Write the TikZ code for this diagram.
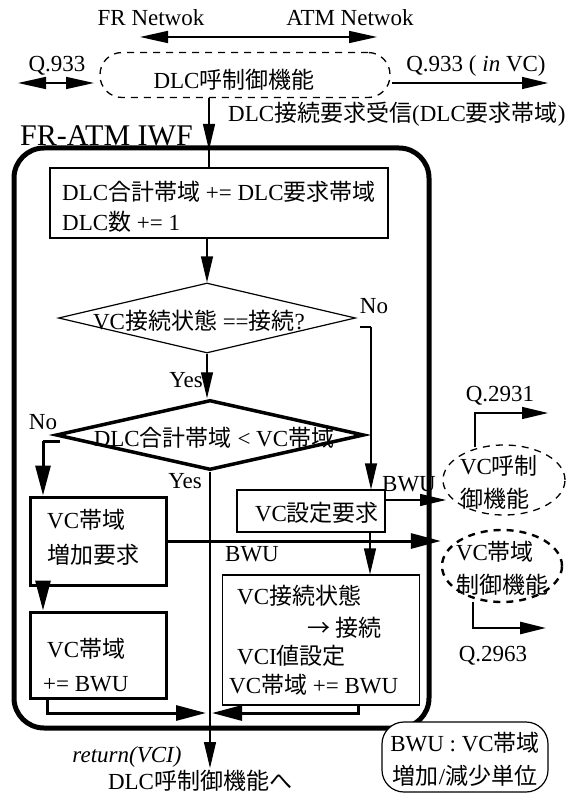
\documentclass[tikz,border=0pt]{standalone}
\usepackage{fontspec}
\setmainfont{Liberation Serif}
\newfontfamily\cjk{Noto Sans CJK JP}
\newcommand\jp[1]{{\cjk #1}}
\usetikzlibrary{arrows.meta,shapes.geometric}
\tikzset{
  txt/.style={font=\fontsize{23}{33}\selectfont, inner sep=0pt},
  thin/.style={line width=1.2pt},
  thick3/.style={line width=3pt},
  boxthin/.style={draw, line width=1.2pt, inner sep=0pt},
  boxthick/.style={draw, line width=3pt, inner sep=0pt},
  arr/.style={-{Triangle[length=26pt,width=12pt]}},
  bigarr/.style={-{Triangle[length=30pt,width=15pt]}},
  darr/.style={{Triangle[length=28pt,width=12pt]}-{Triangle[length=28pt,width=12pt]}},
  cloud/.style={draw, dash pattern=on 7pt off 6pt, line width=1.3pt, inner sep=0pt},
}
\begin{document}
\begin{tikzpicture}[x=1pt,y=-1pt]
\useasboundingbox (0,0) rectangle (584,794);
% top labels
\node[txt] (frn) at (151,18) {FR Netwok};
\node[txt] (atmn) at (350,18) {ATM Netwok};
\coordinate (na) at (140,37);
\coordinate (nb) at (377,37);
\draw[darr, line width=1.6pt] (na) -- (nb);
% DLC call control
\node[cloud, rounded corners=22pt, minimum width=290pt, minimum height=45pt] (dlc) at (245,75) {};
\node[txt] (dlct) at (234,80) {DLC\jp{呼制御機能}};
\node[txt] (q1) at (57,66) {Q.933};
\coordinate (q1a) at (18,83);
\coordinate (q1b) at (94,83);
\draw[darr, line width=1.6pt] (q1a) -- (q1b);
\node[txt] (q2) at (476,66) {Q.933 ( \textit{in} VC)};
\coordinate (q2a) at (392,83);
\coordinate (q2b) at (548,83);
\draw[arr, line width=1.4pt] (q2a) -- (q2b);
\node[txt, anchor=west] (req) at (228,114) {DLC\jp{接続要求受信}(DLC\jp{要求帯域})};
% IWF frame
\node[font=\fontsize{30}{32}\selectfont, inner sep=0pt, anchor=west] (iwf) at (20,136) {FR-ATM IWF};
\node[draw, line width=5pt, rounded corners=30pt, minimum width=415pt, minimum height=580pt, inner sep=0pt] (frame) at (221.5,438) {};
% box1
\node[boxthin, minimum width=338pt, minimum height=70pt] (box1) at (219,203) {};
\node[txt, anchor=base west] (b1a) at (62,201) {DLC\jp{合計帯域} += DLC\jp{要求帯域}};
\node[txt, anchor=base west] (b1b) at (62,230) {DLC\jp{数} += 1};
\coordinate (top1) at (209,150);
\draw[arr, thin] (dlc.south -| top1) -- (top1);
\draw[thin] (top1) -- (top1 |- box1.north);
% diamond 1
\node[diamond, draw, thin, minimum width=297pt, minimum height=70pt, inner sep=0pt] (d1) at (207,318) {};
\node[txt] (d1t) at (199,321) {VC\jp{接続状態} ==\jp{接続}?};
\draw[arr, thin] (box1.south -| d1.north) -- (d1.north);
% diamond 2
\node[diamond, draw, line width=3.5pt, minimum width=308pt, minimum height=70pt, inner sep=0pt] (d2) at (210,435) {};
\node[txt] (d2t) at (214,438) {DLC\jp{合計帯域} < VC\jp{帯域}};
\draw[arr, thin] (d1.south) -- (d1.south |- d2.north);
\node[txt] (yes1) at (186,380) {Yes};
\node[txt] (no1) at (374,306) {No};
\node[txt] (no2) at (43,422) {No};
\node[txt] (yes2) at (185,481) {Yes};
% set request box
\node[boxthin, minimum width=148pt, minimum height=42pt] (setreq) at (311,511) {};
\node[txt] (setreqt) at (317,513) {VC\jp{設定要求}};
\coordinate (n1a) at (360,327);
\coordinate (n1b) at (371,327);
\draw[thin] (n1a) -- (n1b);
\draw[arr, thin] (n1b) -- (n1b |- setreq.north);
% box2
\node[boxthick, minimum width=136pt, minimum height=88pt] (box2) at (98,541) {};
\node[txt, anchor=base west] (b2a) at (47,528) {VC\jp{帯域}};
\node[txt, anchor=base west] (b2b) at (47,563) {\jp{増加要求}};
\coordinate (n2a) at (60,441);
\coordinate (n2b) at (43,441);
\draw[thick3] (n2a) -- (n2b);
\draw[bigarr, thick3] (n2b) -- (n2b |- box2.north);
% box3
\node[boxthick, minimum width=136pt, minimum height=86pt] (box3) at (98,655) {};
\node[txt, anchor=base west] (b3a) at (47,657) {VC\jp{帯域}};
\node[txt, anchor=base west] (b3b) at (43,691) {+= BWU};
\coordinate (b23a) at (43,585);
\draw[bigarr, thick3] (b23a) -- (b23a |- box3.north);
% box4
\node[boxthin, minimum width=197pt, minimum height=130pt] (box4) at (321,640) {};
\node[txt, anchor=base west] (b4a) at (237,604) {VC\jp{接続状態}};
\node[txt, anchor=base west] (b4b) at (307,636) {\jp{→ 接続}};
\node[txt, anchor=base west] (b4c) at (237,664) {VCI\jp{値設定}};
\node[txt, anchor=base west] (b4d) at (229,693) {VC\jp{帯域} += BWU};
\coordinate (s4) at (370,532);
\draw[arr, thin] (s4) -- (s4 |- box4.north);
% right side functions
\node[cloud, ellipse, minimum width=122pt, minimum height=70pt] (vccall) at (504,480) {};
\node[txt, align=left] (vccallt) at (499,482) {VC\jp{呼制}\\\jp{御機能}};
\node[cloud, ellipse, line width=2.4pt, minimum width=120pt, minimum height=72pt] (vcbw) at (502,566) {};
\node[txt, align=left] (vcbwt) at (502,568) {VC\jp{帯域}\\\jp{制御機能}};
\node[txt] (q2931) at (500,396) {Q.2931};
\coordinate (c1a) at (475,447);
\coordinate (c1b) at (475,413);
\coordinate (c1c) at (548,413);
\draw[arr, line width=1.5pt] (c1a) -- (c1b) -- (c1c);
\node[txt] (q2963) at (493,656) {Q.2963};
\coordinate (c2a) at (473,602);
\coordinate (c2b) at (473,628);
\coordinate (c2c) at (546,628);
\draw[arr, line width=2.6pt] (c2a) -- (c2b) -- (c2c);
% BWU arrows
\coordinate (bw1a) at (385,500);
\coordinate (bw1b) at (446,500);
\draw[arr, thin] (bw1a) -- (bw1b);
\node[txt] (bwu1) at (409,484) {BWU};
\draw[bigarr, thick3] (box2.east) -- (box2.east -| vcbw.west);
\node[txt] (bwu2) at (252,554) {BWU};
% trunk and returns
\coordinate (ret) at (209,768);
\draw[arr, thin] (d2.south) -- (d2.south |- ret);
\coordinate (r3a) at (47,698);
\coordinate (r3b) at (47,713);
\coordinate (r3c) at (206,713);
\draw[bigarr, thick3] (r3a) -- (r3b) -- (r3c);
\coordinate (r4a) at (358,705);
\coordinate (r4b) at (358,713);
\coordinate (r4c) at (212,713);
\draw[bigarr, thick3] (r4a) -- (r4b) -- (r4c);
\node[txt, font=\fontsize{23}{33}\selectfont\itshape] (retv) at (127,757) {return(VCI)};
\node[txt] (back) at (200,781) {DLC\jp{呼制御機能へ}};
% BWU legend
\node[draw, thin, fill=white, rounded corners=22pt, minimum width=166pt, minimum height=70pt, inner sep=0pt] (bwu) at (465,757) {};
\node[txt, align=center] (bwut) at (465,759) {BWU : VC\jp{帯域}\\\jp{増加}/\jp{減少単位}};
\end{tikzpicture}
\end{document}
